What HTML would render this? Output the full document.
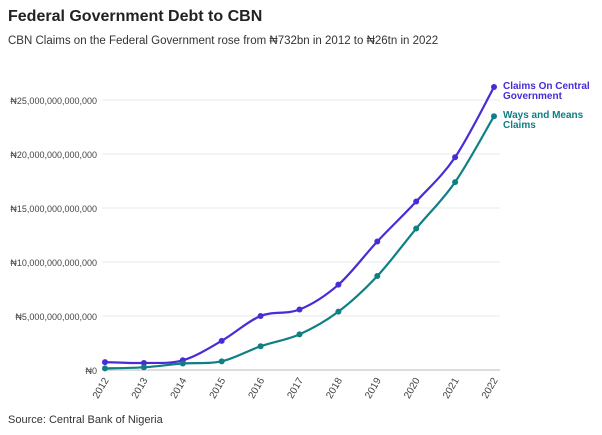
<!DOCTYPE html>
<html><head><meta charset="utf-8"><style>
body{margin:0;background:#fff;font-family:"Liberation Sans",sans-serif;}
#wrap{position:relative;width:602px;height:435px;overflow:hidden;}
.t{position:absolute;left:8px;}
</style></head><body>
<div id="wrap">
<div class="t" style="top:8px;font-size:16px;font-weight:bold;color:#222;">Federal Government Debt to CBN</div>
<div class="t" style="top:35px;font-size:11.5px;color:#333;">CBN Claims on the Federal Government rose from ₦732bn in 2012 to ₦26tn in 2022</div>
<div class="t" style="top:414px;font-size:11px;color:#333;">Source: Central Bank of Nigeria</div>
<svg id="chart" width="602" height="435" style="position:absolute;left:0;top:0"></svg>
</div>
<script>
const years=["2012","2013","2014","2015","2016","2017","2018","2019","2020","2021","2022"];
const claimsCentral=[0.73,0.65,0.9,2.7,5.0,5.6,7.9,11.9,15.6,19.7,26.2];
const waysMeans=[0.15,0.25,0.6,0.8,2.2,3.3,5.4,8.7,13.1,17.4,23.5];
const yTicks=[0,5,10,15,20,25];
const yTickLabels=["₦0","₦5,000,000,000,000","₦10,000,000,000,000","₦15,000,000,000,000","₦20,000,000,000,000","₦25,000,000,000,000"];
const NS="http://www.w3.org/2000/svg";
const svg=document.getElementById('chart');
const x0=105,x1=494,y0=370,yTop=100;
const xs=i=>x0+i*(x1-x0)/(years.length-1);
const ys=v=>y0-v*(y0-yTop)/25;
function mk(t,a){const e=document.createElementNS(NS,t);for(const k in a)e.setAttribute(k,a[k]);svg.appendChild(e);return e;}
yTicks.forEach((v,i)=>{
 const g=mk('line',{x1:102,x2:500,y1:ys(v),y2:ys(v),stroke:v===0?'#bbb':'#e8e8e8','stroke-width':1});
 
 
 const t=mk('text',{x:97,y:ys(v)+4,'text-anchor':'end','font-size':9,fill:'#444','font-family':'Liberation Sans, sans-serif'});
 t.textContent=yTickLabels[i];
 
 
});
years.forEach((y,i)=>{
 const t=mk('text',{x:xs(i)+4,y:380,'text-anchor':'end','font-size':10,fill:'#444','font-family':'Liberation Sans, sans-serif',transform:`rotate(-60 ${xs(i)+4} 380)`});
 t.textContent=y;
 
 
});
function curve(pts){
 let d=`M${pts[0][0]},${pts[0][1]}`;
 for(let i=0;i<pts.length-1;i++){
  const p0=pts[i-1]||pts[i],p1=pts[i],p2=pts[i+1],p3=pts[i+2]||p2;
  const c1=[p1[0]+(p2[0]-p0[0])/6,p1[1]+(p2[1]-p0[1])/6],c2=[p2[0]-(p3[0]-p1[0])/6,p2[1]-(p3[1]-p1[1])/6];
  d+=`C${c1[0]},${c1[1]} ${c2[0]},${c2[1]} ${p2[0]},${p2[1]}`;
 }
 return d;
}
function series(vals,color,name,labels){
 const pts=vals.map((v,i)=>[xs(i),ys(v)]);
 const p=mk('path',{d:curve(pts),fill:'none',stroke:color,'stroke-width':2.2});
 
 
 pts.forEach(q=>{const c=mk('circle',{cx:q[0],cy:q[1],r:3,fill:color});
  
  });
 const last=pts[pts.length-1];
 labels.forEach((l,j)=>{const t=mk('text',{x:last[0]+9,y:last[1]+2+j*10,'font-size':10,'font-weight':'bold',fill:color,'font-family':'Liberation Sans, sans-serif'});
  t.textContent=l;
  
  });
}
series(claimsCentral,'#4a2bd6','claims-central',['Claims On Central','Government']);
series(waysMeans,'#0f7f86','ways-means',['Ways and Means','Claims']);
</script>
</body></html>
